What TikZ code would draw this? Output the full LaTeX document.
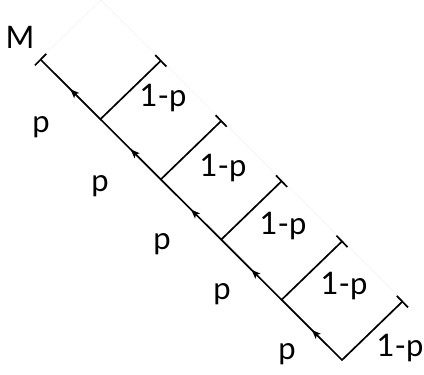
\documentclass[tikz,border=0pt]{standalone}
\usepackage{fontspec}
\setmainfont{Lato}
\usetikzlibrary{arrows.meta,decorations.markings}

\begin{document}
\begin{tikzpicture}[
  x=1pt, y=-1pt,
  font=\fontsize{31}{33}\selectfont,
  edge/.style={line width=1.7pt, line cap=round},
  midarr/.style={postaction={decorate}, decoration={markings, mark=at position 0.5 with {\arrow{Stealth[length=9pt,width=7pt,inset=2pt]}}}},
  endbar/.style={-{Bar[width=16pt,line width=1.7pt]}},
  faint/.style={draw=black!6, line width=0.5pt}
]
\useasboundingbox (0,0) rectangle (424,375);
\coordinate (m0) at (40,59);
\coordinate (m1) at (100.4,119.2);
\coordinate (m2) at (160.8,179.4);
\coordinate (m3) at (221.2,239.6);
\coordinate (m4) at (281.6,299.8);
\coordinate (m5) at (342,360);
\coordinate (b1) at (161.4,60.2);
\coordinate (b2) at (221.8,120.4);
\coordinate (b3) at (282.2,180.6);
\coordinate (b4) at (342.6,240.8);
\coordinate (b5) at (403,301);
\coordinate (top) at (101,0);
\draw[faint] (m0) -- (top) -- (b5);
\draw[edge, midarr, endbar] (m1) -- (m0);
\draw[edge, midarr] (m2) -- (m1);
\draw[edge, midarr] (m3) -- (m2);
\draw[edge, midarr] (m4) -- (m3);
\draw[edge, midarr] (m5) -- (m4);
\foreach \i in {1,...,5} {
  \draw[edge, endbar] (m\i) -- (b\i);
}
\node (lm) at (20,37) {M};
\node (p1) at (41,127) {p};
\node (p2) at (100,186) {p};
\node (p3) at (162,244) {p};
\node (p4) at (222,294) {p};
\node (p5) at (287,354) {p};
\node (q1) at (163,98) {1-p};
\node (q2) at (223,168) {1-p};
\node (q3) at (283,226) {1-p};
\node (q4) at (344,286) {1-p};
\node (q5) at (400,348) {1-p};
\end{tikzpicture}
\end{document}
